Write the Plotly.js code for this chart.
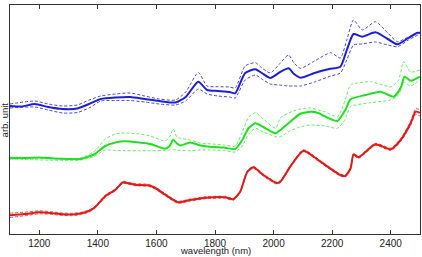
<!DOCTYPE html>
<html><head><meta charset="utf-8">
<script src="https://cdn.plot.ly/plotly-3.0.1.min.js"></script>
<style>html,body{margin:0;padding:0;background:#fff}#c{width:422px;height:257px}</style>
</head><body><div id="c"></div>
<script>
// values in arbitrary units (0 = bottom of the plot frame)
const blueX = [1100,1140,1185,1230,1280,1330,1370,1410,1460,1510,1560,1610,1665,1700,1743,1773,1810,1850,1869,1903,1938,1960,1989,2020,2051,2070,2092,2140,2190,2228,2250,2273,2303,2348,2390,2423,2460,2492,2500];
const blueMean = [128,127.5,130,127,125,125.5,130,135,136.5,137,135,133,131.5,137,152.3,144,143,142,140.7,161,164.7,161,156,161.5,165.7,160,156.3,161,165,167.3,184,200,197.3,201.7,195,189.7,196,201.3,201];
const blueBandX = [1100,1185,1230,1280,1330,1370,1410,1460,1510,1560,1610,1665,1700,1743,1773,1810,1850,1869,1903,1938,1960,1989,2020,2051,2070,2092,2140,2195,2228,2250,2273,2303,2348,2390,2423,2460,2500];
const blueHigh = [130,133,130,128,129,134,138,140,141,138,135,134,142,161.5,148,147.3,147,146,168,171.3,166,161,170,179,171,165.7,173,181.3,176,194,214,204,212.3,201,192.3,197,202];
const blueLow = [126,127,124,121,121.5,126,133,133.5,133.5,132,130,129,133,145,140,138,137,136,154,159,155,150,149,148,148,148,152,158,161,174,189,190,192,189,187.3,194,200];

const greenX = [1100,1150,1200,1250,1300,1340,1390,1425,1460,1493,1540,1579,1630,1645,1657,1670,1681,1715,1750,1790,1830,1869,1893,1915,1938,1965,2007,2023,2051,2090,2126,2153,2177,2218,2245,2263,2314,2365,2410,2434,2447,2468,2500];
const greenMean = [76,76,76.5,75.5,75,75,80,88,91.5,92.7,91.5,90,85.3,88,94.3,90.5,88.5,91.5,88.5,87,86.5,85,94,106,110.7,107,100.7,104,110.7,120,122.3,121,117.3,113,124,134.7,139,142.3,137.3,146,157.3,153.3,157.3];
const greenBandX = [1100,1340,1390,1425,1460,1493,1540,1579,1630,1645,1657,1670,1681,1715,1750,1790,1830,1869,1893,1915,1938,1965,2007,2023,2051,2090,2126,2177,2218,2245,2263,2331,2400,2427,2444,2468,2500];
const greenHigh = [77,76,83,95,100,101,100,98,93,97,105,97,95.7,94,91,90,89,88,102,117,121.3,115,105.7,116,121,125,126,122,117.3,134,149,152.3,147.3,154,172.3,162,164];
const greenLow = [75,74,78,84,83.5,83.3,83.3,83.3,83.5,84,84.3,84,83.5,83.3,84,84,83.5,82,88,100,105.7,102,97.3,97.3,102.3,107,109,108,105.7,115,127.3,131.3,134,139,152,148,154];

const redX = [1100,1150,1200,1240,1270,1310,1340,1370,1390,1425,1460,1486,1500,1527,1572,1596,1630,1674,1715,1770,1835,1862,1886,1910,1931,1965,2010,2023,2057,2102,2160,2228,2245,2263,2273,2290,2348,2400,2434,2468,2485,2500];
const redMean = [18.7,20,21.7,21,20,19.5,20.5,23,26.7,37.7,44.3,51.7,51,49.3,48.7,46,39.3,31.7,34,36.3,36.7,34.7,42.3,62,66.7,59,51,52.3,67.3,83.3,72.3,59,58,65.7,79.7,76.7,89.7,84.7,94,110.7,122.3,121.3];
const redSpread = [2.2,1.8,1.5,1.3,1.2,1.2,1.1,1,1,1,1,1,1,1,1,1,1,1,1,1,1,1,1,1,1,1,1,1,1,1,1,1,1,1,1,1,1,1.2,1.5,2,2.8,3.2];
const redHigh = redMean.map((v,i)=>v+redSpread[i]);
const redLow = redMean.map((v,i)=>v-redSpread[i]);

const xTicks = [1200,1400,1600,1800,2000,2200,2400];

const BLUE='rgb(30,30,215)', GREEN='rgb(30,225,30)', RED='rgb(225,25,25)';
const BLUE_D='rgb(70,70,225)', GREEN_D='rgb(100,235,100)', RED_D='rgb(235,80,80)';

function solid(x,y,c){return {x:x,y:y,mode:'lines',type:'scatter',line:{color:c,width:2,shape:'spline',smoothing:0.6},hoverinfo:'skip'};}
function dashed(x,y,c){return {x:x,y:y,mode:'lines',type:'scatter',line:{color:c,width:1,dash:'3px,2px',shape:'spline',smoothing:0.6},hoverinfo:'skip'};}

const data = [
  dashed(blueBandX,blueHigh,BLUE_D), dashed(blueBandX,blueLow,BLUE_D), solid(blueX,blueMean,BLUE),
  dashed(greenBandX,greenHigh,GREEN_D), dashed(greenBandX,greenLow,GREEN_D), solid(greenX,greenMean,GREEN),
  dashed(redX,redHigh,RED_D), dashed(redX,redLow,RED_D), solid(redX,redMean,RED)
];

const layout = {
  width:422, height:257, showlegend:false,
  paper_bgcolor:'#fff', plot_bgcolor:'#fff',
  margin:{l:10,r:2,t:5,b:23},
  font:{family:'Liberation Sans, Arial, sans-serif', size:10, color:'#222'},
  xaxis:{range:[1100,2500], tickvals:xTicks, ticktext:xTicks.map(String),
    ticks:'inside', ticklen:4, tickcolor:'#333', mirror:'ticks', showline:true, linecolor:'#333', linewidth:1,
    showgrid:false, zeroline:false, tickfont:{size:10,color:'#222'}, automargin:false},
  yaxis:{range:[0,229], showticklabels:false, ticks:'', showline:true, mirror:true, linecolor:'#333', linewidth:1,
    showgrid:false, zeroline:false, automargin:false},
  annotations:[
    {text:'arb. unit', xref:'paper', yref:'paper', x:-0.0125, y:0.5, xanchor:'center', yanchor:'middle',
     textangle:-90, showarrow:false, font:{size:9.5,color:'#222'}},
    {text:'wavelength (nm)', xref:'paper', yref:'paper', x:0.5, y:-23/229, xanchor:'center', yanchor:'bottom',
     showarrow:false, borderpad:0, font:{size:9.5,color:'#222'}}
  ]
};
Plotly.newPlot('c', data, layout, {staticPlot:true});
</script></body></html>
